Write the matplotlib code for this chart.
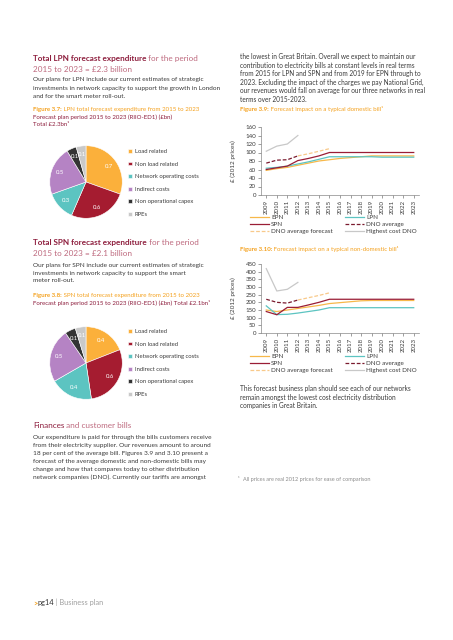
import matplotlib
matplotlib.use("Agg")
import matplotlib.pyplot as plt
from matplotlib import font_manager

# ---- data -------------------------------------------------------------
pie_labels = ["Load related", "Non load related", "Network operating costs",
              "Indirect costs", "Non operational capex", "RPEs"]
lpn_spend = [0.7, 0.6, 0.3, 0.5, 0.1, 0.1]
spn_spend = [0.4, 0.6, 0.4, 0.5, 0.1, 0.1]

years = list(range(2009, 2024))
hist_years = years[:4]          # 2009-2012
fc_years = years[3:7]           # 2012-2015

dom_epn = [58, 62, 65, 70, 75, 80, 83, 86, 88, 90, 92, 92, 92, 92, 92]
dom_lpn = [63, 65, 68, 73, 78, 84, 90, 90, 90, 90, 90, 89, 89, 89, 89]
dom_spn = [60, 64, 68, 81, 86, 92, 100, 100, 100, 100, 100, 100, 100, 100, 100]
dom_dno_avg = [75, 82, 83, 92]
dom_dno_fc = [92, 97, 103, 109]
dom_high = [103, 115, 120, 140]

nd_epn = [150, 140, 150, 160, 170, 180, 192, 198, 204, 210, 212, 212, 212, 212, 212]
nd_lpn = [177, 120, 122, 130, 140, 150, 165, 165, 165, 165, 165, 165, 165, 165, 165]
nd_spn = [140, 119, 167, 167, 183, 200, 220, 220, 220, 220, 220, 220, 220, 220, 220]
nd_dno_avg = [220, 200, 195, 215]
nd_dno_fc = [215, 230, 245, 262]
nd_high = [420, 274, 285, 330]

# ---- style ------------------------------------------------------------
installed = {f.name for f in font_manager.fontManager.ttflist}
FONT = "Liberation Sans Narrow" if "Liberation Sans Narrow" in installed else "Lato"
plt.rcParams["font.family"] = [FONT, "DejaVu Sans"]

DRED = "#8E1F3E"
LRED = "#BE6A7F"
ORANGE = "#F4A11E"
TEXT = "#3A3A3A"
GREY = "#8C8C8C"
pie_colors = ["#FBB03B", "#A51C30", "#5CC4C1", "#B583C4", "#333333", "#C9C9C9"]
C_EPN, C_LPN, C_SPN = "#F7B84A", "#5CC4C1", "#9A1D35"
C_AVG, C_FC, C_HIGH = "#7A1A2E", "#F8C98A", "#C8C8C8"

HEAD = 5.9
BODY = 4.65
CAP = 4.45

W, H = 453, 640
fig = plt.figure(figsize=(W / 100, H / 100), dpi=100)
bg = fig.add_axes([0, 0, 1, 1])
bg.set_xlim(0, W)
bg.set_ylim(H, 0)
bg.axis("off")


def px_axes(x, y, w, h):
    return fig.add_axes([x / W, 1 - (y + h) / H, w / W, h / H])


def put(x, y, parts, size):
    """write a line made of differently coloured pieces"""
    t = None
    for s, c, bold in parts:
        kw = dict(fontsize=size, color=c, fontweight="bold" if bold else "normal", ha="left")
        if t is None:
            t = bg.text(x, y, s, va="center", **kw)
        else:
            t = bg.annotate(s, xy=(1, 0), xycoords=t, va="bottom", **kw)


def para(x, y, lines, size=BODY, step=8.4, color=TEXT):
    for i, s in enumerate(lines):
        bg.text(x, y + i * step, s, fontsize=size, color=color, va="center")


def draw_pie(cy, values, legend_top):
    ax = px_axes(86 - 37, cy - 37, 74, 74)
    total = sum(values)
    wedges, _, _ = ax.pie(values, colors=pie_colors, startangle=90, counterclock=False,
                          autopct=lambda p: f"{p * total / 100:.1f}", pctdistance=0.76,
                          wedgeprops=dict(edgecolor="white", linewidth=0.4),
                          textprops=dict(color="white", fontsize=4.3))
    ax.set_xlim(-1.02, 1.02)
    ax.set_ylim(-1.02, 1.02)
    ax.legend(wedges, pie_labels, loc="upper left", bbox_to_anchor=(128, legend_top),
              bbox_transform=bg.transData, frameon=False, fontsize=4.2, handlelength=0.65,
              handleheight=0.65, handletextpad=0.5, labelspacing=1.3, borderpad=0,
              borderaxespad=0, labelcolor=TEXT)


def draw_lines(top, h, ymax, step, epn, lpn, spn, avg, fc, high, legend_top):
    ax = px_axes(261, top, 158, h)
    l_epn, = ax.plot(years, epn, color=C_EPN, lw=0.9)
    l_lpn, = ax.plot(years, lpn, color=C_LPN, lw=0.9)
    l_spn, = ax.plot(years, spn, color=C_SPN, lw=0.9)
    l_avg, = ax.plot(hist_years, avg, color=C_AVG, lw=0.9, ls=(0, (3, 1.5)))
    l_fc, = ax.plot(fc_years, fc, color=C_FC, lw=0.9, ls=(0, (3, 1.5)))
    l_high, = ax.plot(hist_years, high, color=C_HIGH, lw=0.9)
    ax.set_xlim(2008.5, 2023.5)
    ax.set_ylim(0, ymax)
    ax.set_yticks(range(0, ymax + 1, step))
    ax.set_xticks(years)
    ax.set_xticklabels([str(y) for y in years], rotation=90)
    ax.tick_params(labelsize=4.4, length=2, width=0.4, pad=1.5, colors="#555", labelcolor=TEXT)
    for s in ("top", "right"):
        ax.spines[s].set_visible(False)
    for s in ("left", "bottom"):
        ax.spines[s].set_color("#888")
        ax.spines[s].set_linewidth(0.5)
    ax.set_ylabel("£ (2012 prices)", fontsize=4.6, color=TEXT)
    ax.yaxis.set_label_coords(-0.16, 0.5)
    handles = [l_epn, l_spn, l_fc, l_lpn, l_avg, l_high]
    names = ["EPN", "SPN", "DNO average forecast", "LPN", "DNO average", "Highest cost DNO"]
    ax.legend(handles, names, ncol=2, loc="upper left", bbox_to_anchor=(250, legend_top),
              bbox_transform=bg.transData, frameon=False, fontsize=4.5, handlelength=3.0,
              handletextpad=0.35, columnspacing=2.0, labelspacing=0.25, borderpad=0,
              borderaxespad=0, labelcolor=TEXT)


# ---- left column ------------------------------------------------------
put(33, 59, [("Total LPN forecast expenditure", DRED, True), (" for the period", LRED, False)], HEAD)
put(33, 69.5, [("2015 to 2023 = £2.3 billion", LRED, False)], HEAD)
para(33, 80, ["Our plans for LPN include our current estimates of strategic",
              "investments in network capacity to support the growth in London",
              "and for the smart meter roll-out."])
put(33, 109, [("Figure 3.7:", ORANGE, True),
              (" LPN total forecast expenditure from 2015 to 2023", ORANGE, False)], CAP)
para(33, 117, ["Forecast plan period 2015 to 2023 (RIIO-ED1) (£bn)", "Total £2.3bn¹"],
     size=CAP, step=7.6, color=DRED)
draw_pie(182, lpn_spend, 149)

put(33, 243, [("Total SPN forecast expenditure", DRED, True), (" for the period", LRED, False)], HEAD)
put(33, 253, [("2015 to 2023 = £2.1 billion", LRED, False)], HEAD)
para(33, 265, ["Our plans for SPN include our current estimates of strategic",
               "investments in network capacity to support the smart",
               "meter roll-out."], step=8)
put(33, 295, [("Figure 3.8:", ORANGE, True),
              (" SPN total forecast expenditure from 2015 to 2023", ORANGE, False)], CAP)
para(33, 302.5, ["Forecast plan period 2015 to 2023 (RIIO-ED1) (£bn) Total £2.1bn¹"],
     size=CAP, color=DRED)
draw_pie(363, spn_spend, 329)

put(33, 425, [("Finances", DRED, False), (" and customer bills", LRED, False)], HEAD)
para(33, 437, ["Our expenditure is paid for through the bills customers receive",
               "from their electricity supplier. Our revenues amount to around",
               "18 per cent of the average bill. Figures 3.9 and 3.10 present a",
               "forecast of the average domestic and non-domestic bills may",
               "change and how that compares today to other distribution",
               "network companies (DNO). Currently our tariffs are amongst"], step=8.1)

put(33, 603, [(">", ORANGE, True), ("pg14", "#333333", False), (" | Business plan", "#A0A0A0", False)], 5.3)

# ---- right column -----------------------------------------------------
para(240, 57, ["the lowest in Great Britain. Overall we expect to maintain our",
               "contribution to electricity bills at constant levels in real terms",
               "from 2015 for LPN and SPN and from 2019 for EPN through to",
               "2023. Excluding the impact of the charges we pay National Grid,",
               "our revenues would fall on average for our three networks in real",
               "terms over 2015-2023."], size=4.7)
put(240, 110, [("Figure 3.9:", ORANGE, True),
               (" Forecast impact on a typical domestic bill¹", ORANGE, False)], CAP)
draw_lines(127, 68, 160, 20, dom_epn, dom_lpn, dom_spn, dom_dno_avg, dom_dno_fc, dom_high, 214.5)

put(240, 249, [("Figure 3.10:", ORANGE, True),
               (" Forecast impact on a typical non-domestic bill¹", ORANGE, False)], CAP)
draw_lines(264, 69, 450, 50, nd_epn, nd_lpn, nd_spn, nd_dno_avg, nd_dno_fc, nd_high, 353.5)

para(240, 389, ["This forecast business plan should see each of our networks",
                "remain amongst the lowest cost electricity distribution",
                "companies in Great Britain."], size=4.7)
bg.text(238, 479, "¹", fontsize=3.8, color=GREY, va="center")
bg.text(243, 479, "All prices are real 2012 prices for ease of comparison",
        fontsize=4.0, color=GREY, va="center")

fig.savefig("out.png", dpi=100)
